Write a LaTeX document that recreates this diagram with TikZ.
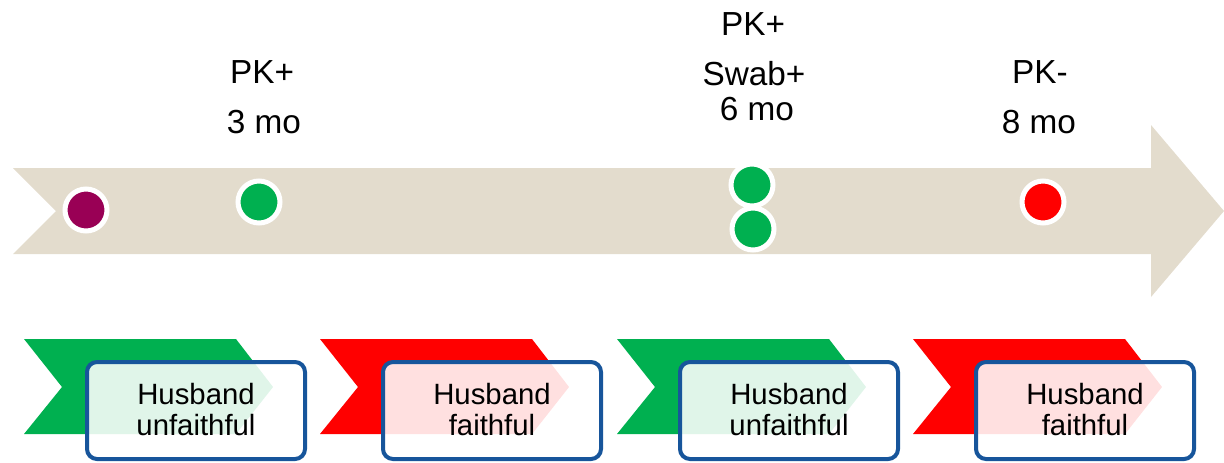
\documentclass[tikz,border=0pt]{standalone}
\usepackage{fontspec}
\setmainfont{Liberation Sans}
\definecolor{track}{HTML}{E3DCCD}
\definecolor{okgreen}{HTML}{00B050}
\definecolor{alarmred}{HTML}{FF0000}
\definecolor{plum}{HTML}{990055}
\definecolor{frame}{HTML}{17559B}

\begin{document}
\begin{tikzpicture}[x=0.75pt,y=-0.75pt,
  dot/.style={circle,inner sep=0pt,minimum size=31.5pt,draw=white,line width=3.75pt},
  toplabel/.style={anchor=base,inner sep=0pt,font=\fontsize{25}{29}\selectfont},
  boxtext/.style={anchor=base,inner sep=0pt,font=\fontsize{22}{26}\selectfont},
  notebox/.style={rectangle,rounded corners=7.5pt,draw=frame,line width=3pt,
    fill=white,fill opacity=0.88,minimum width=163.5pt,minimum height=72.75pt,inner sep=0pt},
]
\useasboundingbox (0,0) rectangle (1224,462);

% timeline arrow
\fill[track] (13,168) -- (1151,168) -- (1151,125) -- (1224,211) -- (1151,297)
  -- (1151,254) -- (13,254) -- (56,211) -- cycle;

% events on the timeline
\node[dot,fill=plum]     (d0)  at (86,210)  {};
\node[dot,fill=okgreen]  (d1)  at (259,202) {};
\node[dot,fill=okgreen]  (d2a) at (752,185) {};
\node[dot,fill=okgreen]  (d2b) at (753,229) {};
\node[dot,fill=alarmred] (d3)  at (1043,202) {};

% labels above the events
\node[toplabel] (l1a) at (262,83)  {PK+};
\node[toplabel] (l1b) at (264,133) {3 mo};
\node[toplabel] (l2a) at (753,35)  {PK+};
\node[toplabel] (l2b) at (754,85)  {Swab+};
\node[toplabel] (l2c) at (757,120) {6 mo};
\node[toplabel] (l3a) at (1040,83)  {PK-};
\node[toplabel] (l3b) at (1039,133) {8 mo};

% phases below the timeline
\foreach \L/\c/\t [count=\i] in {24/okgreen/unfaithful, 320/alarmred/faithful,
                                617/okgreen/unfaithful, 913/alarmred/faithful} {
  \fill[\c] (\L,339) -- ++(212,0) -- ++(37,48) -- ++(-37,47) -- ++(-212,0)
    -- ++(38,-47) -- cycle;
  \node[notebox] (box\i) at ({\L+172},410.5) {};
  \node[boxtext] (top\i) at ({\L+172},404) {Husband};
  \node[boxtext] (bot\i) at ({\L+172},435) {\t};
}
\end{tikzpicture}
\end{document}
